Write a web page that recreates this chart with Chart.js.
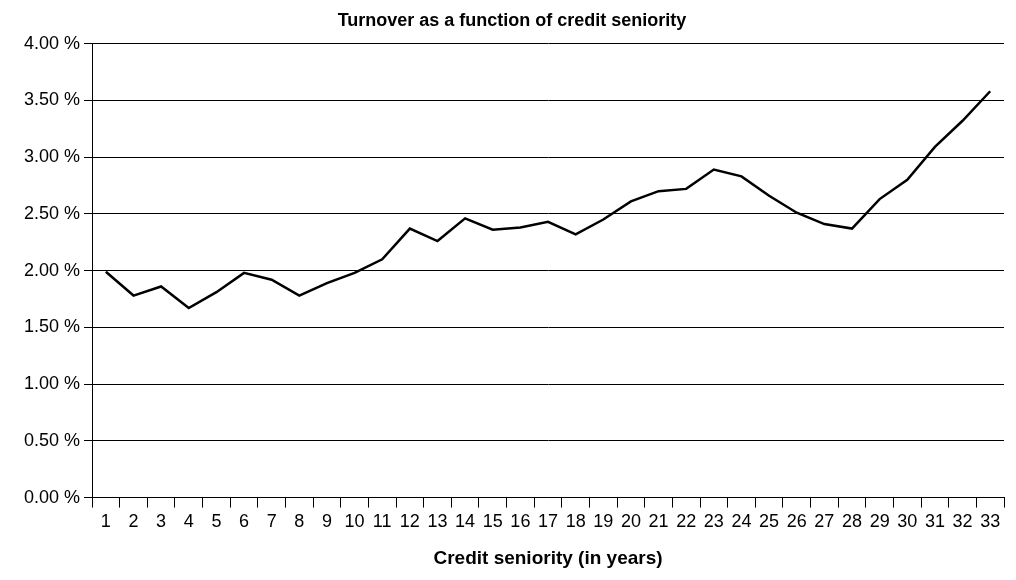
<!DOCTYPE html>
<html>
<head>
<meta charset="utf-8">
<script src="https://cdn.jsdelivr.net/npm/chart.js@4/dist/chart.umd.min.js"></script>
<style>
html, body { margin: 0; padding: 0; background: #fff; }
#wrap { width: 1016px; height: 580px; }
</style>
</head>
<body>
<div id="wrap"><canvas id="chart"></canvas></div>
<script>
const seniority = [];
for (let i = 1; i <= 33; i++) seniority.push(String(i));
const turnover = [1.99, 1.78, 1.86, 1.67, 1.81, 1.98, 1.92, 1.78, 1.89, 1.98, 2.10,
    2.37, 2.26, 2.46, 2.36, 2.38, 2.43, 2.32, 2.45, 2.61, 2.70, 2.72, 2.89, 2.83,
    2.66, 2.51, 2.41, 2.37, 2.63, 2.80, 3.09, 3.32, 3.58];

const font = { family: '"Liberation Sans", Arial, sans-serif', size: 18 };

new Chart(document.getElementById('chart').getContext('2d'), {
    type: 'line',
    data: {
        labels: seniority,
        datasets: [{
            data: turnover,
            borderColor: '#000',
            borderWidth: 2.5,
            pointRadius: 0,
            tension: 0,
            fill: false
        }]
    },
    options: {
        responsive: true,
        maintainAspectRatio: false,
        animation: false,
        layout: { padding: { left: 20, right: 12, top: 6, bottom: 6 } },
        plugins: {
            legend: { display: false },
            tooltip: { enabled: false },
            title: {
                display: true,
                text: 'Turnover as a function of credit seniority',
                color: '#000',
                font: { family: font.family, size: 18, weight: 'bold' },
                padding: { top: 4, bottom: 12 }
            }
        },
        scales: {
            x: {
                offset: true,
                grid: { offset: true, drawOnChartArea: false, color: '#000', tickLength: 10 },
                border: { color: '#000', width: 1 },
                ticks: { color: '#000', font: font, maxRotation: 0, autoSkip: false, padding: 4 },
                title: {
                    display: true,
                    text: 'Credit seniority (in years)',
                    color: '#000',
                    font: { family: font.family, size: 19, weight: 'bold' },
                    padding: { top: 10, bottom: 4 }
                }
            },
            y: {
                min: 0,
                max: 4,
                ticks: {
                    stepSize: 0.5,
                    color: '#000',
                    font: font,
                    padding: 4,
                    callback: v => v.toFixed(2) + ' %'
                },
                grid: { color: '#000', tickLength: 8 },
                border: { color: '#000', width: 1 }
            }
        }
    }
});
</script>
</body>
</html>
